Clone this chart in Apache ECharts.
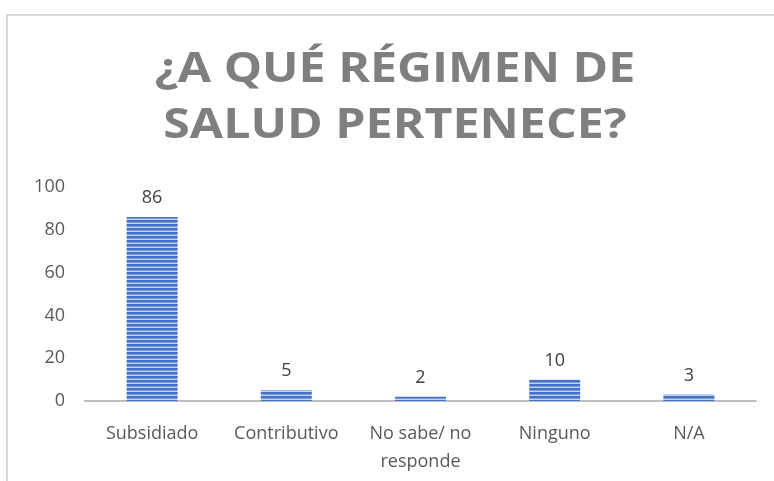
<!DOCTYPE html>
<html>
<head>
<meta charset="utf-8">
<script src="https://cdn.jsdelivr.net/npm/echarts@6/dist/echarts.min.js"></script>
<style>
html, body { margin: 0; padding: 0; background: #fff; }
#chart { width: 774px; height: 481px; }
</style>
</head>
<body>
<div id="chart"></div>
<script>
var titleText = '¿A QUÉ RÉGIMEN DE\nSALUD PERTENECE?';
var categories = ['Subsidiado', 'Contributivo', 'No sabe/ no\nresponde', 'Ninguno', 'N/A'];
var values = [86, 5, 2, 10, 3];
var yTicks = { min: 0, max: 100, interval: 20 };

// horizontal stripe fill like the original
function stripes() {
    var c = document.createElement('canvas');
    c.width = 8; c.height = 4;
    var ctx = c.getContext('2d');
    ctx.fillStyle = '#4472c4'; ctx.fillRect(0, 0, 8, 2);
    ctx.fillStyle = '#7d9ad8'; ctx.fillRect(0, 2, 8, 1);
    ctx.fillStyle = '#c5d3ef'; ctx.fillRect(0, 3, 8, 1);
    return c;
}

var chart = echarts.init(document.getElementById('chart'));
var font = '"Open Sans", "Liberation Sans", sans-serif';

chart.setOption({
    animation: false,
    graphic: [
        { type: 'line', shape: { x1: 6, y1: 15, x2: 774, y2: 15 }, style: { stroke: '#d9d9d9', lineWidth: 2 } },
        { type: 'line', shape: { x1: 7, y1: 15, x2: 7, y2: 481 }, style: { stroke: '#d9d9d9', lineWidth: 2 } },
        {
            // title drawn as graphic text so it can be widened (original is letter-spaced)
            type: 'text',
            x: 395,
            y: 42,
            scaleX: 1.15,
            style: {
                text: titleText,
                x: 0,
                y: 0,
                align: 'center',
                verticalAlign: 'top',
                font: 'bold 42px "Open Sans", sans-serif',
                lineHeight: 56,
                fill: '#7f7f7f'
            }
        }
    ],
    grid: { left: 85, right: 18, top: 187, bottom: 80 },
    xAxis: {
        type: 'category',
        data: categories,
        axisLine: { lineStyle: { color: '#bfbfbf', width: 2 } },
        axisTick: { show: false },
        axisLabel: {
            interval: 0,
            hideOverlap: false,
            color: '#595959',
            fontFamily: font,
            fontSize: 18,
            margin: 19,
            lineHeight: 28
        }
    },
    yAxis: {
        type: 'value',
        min: yTicks.min,
        max: yTicks.max,
        interval: yTicks.interval,
        splitLine: { show: false },
        axisLine: { show: false },
        axisTick: { show: false },
        axisLabel: { color: '#595959', fontFamily: font, fontSize: 18, margin: 20 }
    },
    series: [{
        type: 'bar',
        data: values,
        barWidth: 51,
        itemStyle: { color: { image: stripes(), repeat: 'repeat' } },
        label: {
            show: true,
            position: 'top',
            distance: 10,
            color: '#404040',
            fontFamily: font,
            fontSize: 18
        }
    }]
});
</script>
</body>
</html>
